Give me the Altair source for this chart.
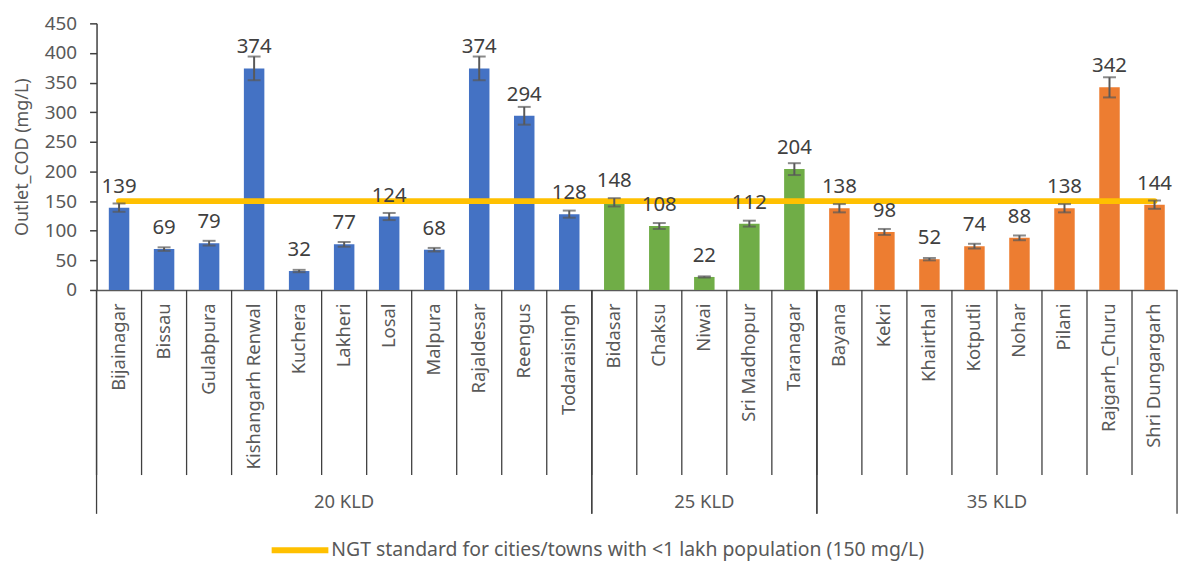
import altair as alt
import pandas as pd

names = ["Bijainagar", "Bissau", "Gulabpura", "Kishangarh Renwal", "Kuchera", "Lakheri",
         "Losal", "Malpura", "Rajaldesar", "Reengus", "Todaraisingh",
         "Bidasar", "Chaksu", "Niwai", "Sri Madhopur", "Taranagar",
         "Bayana", "Kekri", "Khairthal", "Kotputli", "Nohar", "Pilani", "Rajgarh_Churu", "Shri Dungargarh"]
groups = ["20 KLD"] * 11 + ["25 KLD"] * 5 + ["35 KLD"] * 8
cod = [139, 69, 79, 374, 32, 77, 124, 68, 374, 294, 128,
       148, 108, 22, 112, 204,
       138, 98, 52, 74, 88, 138, 342, 144]
err = [7, 3, 4, 20, 2, 4, 6, 3, 20, 15, 6,
       7, 5, 1, 5, 10,
       7, 5, 2, 4, 4, 7, 17, 7]
ngt_value = 150
ngt_label = "NGT standard for cities/towns with <1 lakh population (150 mg/L)"
group_names = ["20 KLD", "25 KLD", "35 KLD"]
group_colors = ["#4472C4", "#70AD47", "#ED7D31"]
y_ticks = [0, 50, 100, 150, 200, 250, 300, 350, 400, 450]

df = pd.DataFrame({"name": names, "group": groups, "cod": cod, "err": err})

W, H = 1086, 268
FONT = "Noto Sans"
TXT = "#595959"
YTITLE = "Outlet_COD (mg/L)"

xband = alt.X("name:N", sort=names,
              scale=alt.Scale(paddingInner=0, paddingOuter=0),
              axis=alt.Axis(title=None, labelAngle=-90, ticks=False, labelPadding=13,
                            labelFontSize=18.5, labelFont=FONT, labelColor=TXT,
                            domainColor="#595959", domainWidth=1.5, labelLimit=400))


def yenc(field):
    return alt.Y(field, type="quantitative", title=YTITLE,
                 scale=alt.Scale(domain=[0, 450], nice=False),
                 axis=alt.Axis(values=y_ticks, grid=False, tickSize=7, tickColor="#404040",
                               tickWidth=1.5, domainColor="#404040", domainWidth=1.5,
                               labelPadding=13, labelFontSize=19, labelFont=FONT,
                               labelColor=TXT, titleFontSize=18, titleFont=FONT,
                               titleColor=TXT, titleFontWeight="normal", titlePadding=13))


base = alt.Chart(df).encode(x=xband)

bars = base.mark_bar(width=alt.RelativeBandSize(0.455)).encode(
    y=yenc("cod"),
    fill=alt.Fill("group:N", scale=alt.Scale(domain=group_names, range=group_colors), legend=None),
)

line = base.transform_calculate(series=repr(ngt_label), std=str(ngt_value)).mark_line(
    strokeWidth=6, strokeCap="round").encode(
    y=yenc("std"),
    stroke=alt.Stroke(
        "series:N",
        scale=alt.Scale(domain=[ngt_label], range=["#FFC000"]),
        legend=alt.Legend(orient="none", legendX=173, legendY=498, title=None,
                          symbolType="stroke", symbolSize=3249, symbolStrokeWidth=6,
                          labelFontSize=19.5, labelFont=FONT, labelColor=TXT,
                          labelLimit=900, labelOffset=0),
    ),
)

errs = base.transform_calculate(lo="datum.cod - datum.err", hi="datum.cod + datum.err")
err_rule = errs.mark_rule(color="#595959", strokeWidth=2).encode(y=yenc("lo"), y2="hi:Q")
cap_lo = errs.mark_tick(color="#595959", thickness=2, size=13).encode(y=yenc("lo"))
cap_hi = errs.mark_tick(color="#595959", thickness=2, size=13).encode(y=yenc("hi"))

labels = base.mark_text(baseline="alphabetic", dy=-15, fontSize=20.5, font=FONT,
                        color="#404040").encode(y=yenc("cod"), text="cod:Q")

band_layer = alt.layer(bars, line, err_rule, cap_lo, cap_hi, labels)

n = len(names)


def xq(field):
    return alt.X(field, type="quantitative",
                 scale=alt.Scale(domain=[0, n], nice=False, zero=True), axis=None)


qbase = alt.Chart(df).transform_window(rn="row_number()")

inner = qbase.transform_calculate(b="datum.rn - 1").mark_rule(
    color="#404040", strokeWidth=1.3).encode(x=xq("b"), y=alt.value(H), y2=alt.value(H + 186))

sep = qbase.transform_aggregate(lo="min(rn)", hi="max(rn)", groupby=["group"]).transform_calculate(
    s="datum.lo - 1")
sep_start = sep.mark_rule(color="#404040", strokeWidth=1.3).encode(
    x=xq("s"), y=alt.value(H), y2=alt.value(H + 225))
sep_end = sep.mark_rule(color="#404040", strokeWidth=1.3).encode(
    x=xq("hi"), y=alt.value(H), y2=alt.value(H + 225))

glabels = qbase.transform_calculate(c="datum.rn - 0.5").transform_aggregate(
    mid="mean(c)", groupby=["group"]).mark_text(
    fontSize=18.5, font=FONT, color=TXT, baseline="middle").encode(
    x=xq("mid"), y=alt.value(H + 213), text="group:N")

quant_layer = alt.layer(inner, sep_start, sep_end, glabels)

chart = alt.layer(band_layer, quant_layer).resolve_scale(x="independent").properties(
    width=W, height=H, background="white"
).configure_view(stroke=None)

chart.save("out.html", embed_options={"renderer": "svg", "actions": False})
